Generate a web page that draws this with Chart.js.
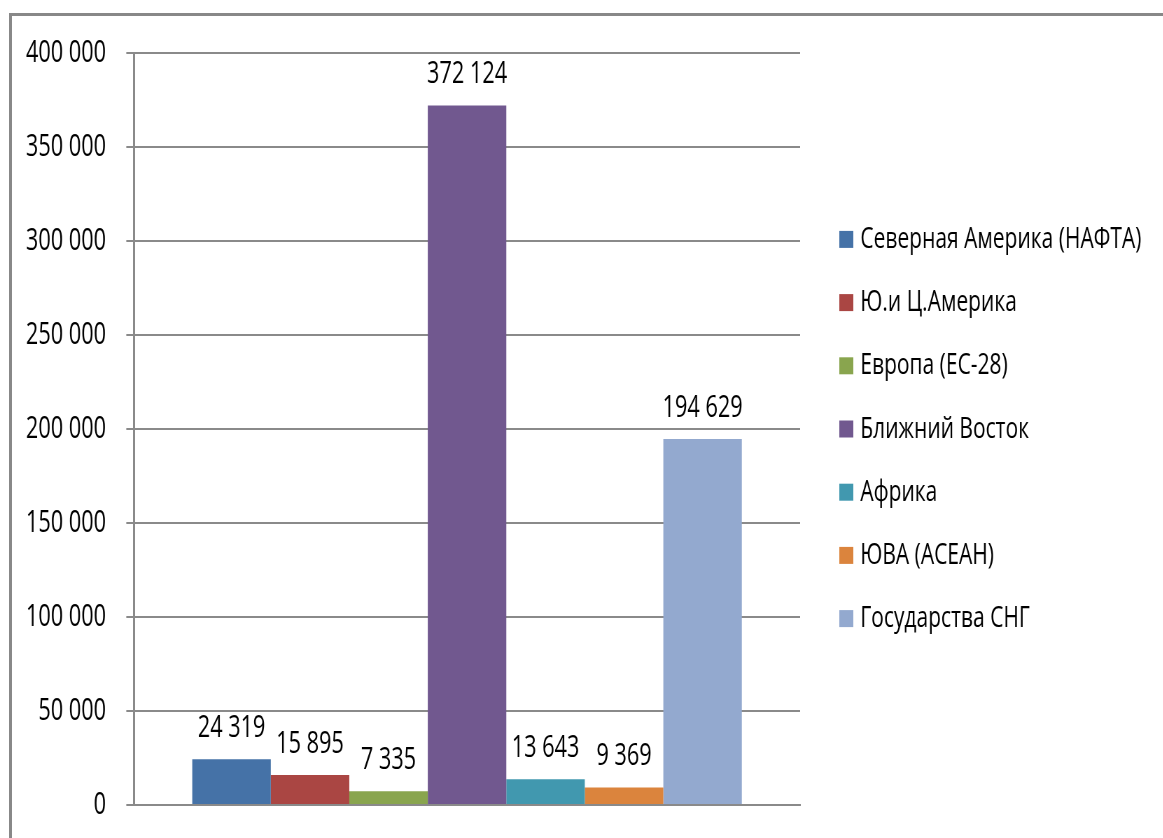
<!DOCTYPE html>
<html lang="ru">
<head>
<meta charset="utf-8">
<title>Регионы</title>
<script src="https://cdn.jsdelivr.net/npm/chart.js@4.4.1/dist/chart.umd.min.js"></script>
<style>
  html, body { margin: 0; padding: 0; background: #fff; overflow: hidden; }
  #wrap { position: relative; width: 1163px; height: 838px; overflow: hidden; background: #fff; }
  /* шрифт узкий, поэтому холст рисуется шире и сжимается по горизонтали */
  #chart { position: absolute; left: 0; top: 0; transform: scaleX(0.7); transform-origin: 0 0; }
  #frame { position: absolute; left: 9px; top: 13px; width: 1200px; height: 900px;
           border-left: 3px solid #888; border-top: 3px solid #888; pointer-events: none; }
</style>
</head>
<body>
<div id="wrap">
  <canvas id="chart" width="1662" height="838"></canvas>
  <div id="frame"></div>
</div>
<script>
// Регионы и значения (одна категория, по серии на регион)
var regions = [
    'Северная Америка (НАФТА)',
    'Ю.и Ц.Америка',
    'Европа (ЕС-28)',
    'Ближний Восток',
    'Африка',
    'ЮВА (АСЕАН)',
    'Государства СНГ'
];
var values = [24319, 15895, 7335, 372124, 13643, 9369, 194629];
var colors = ['#4572A7', '#AA4643', '#89A54E', '#71588F', '#4198AF', '#DB843D', '#93A9CF'];
var yTicks = [0, 50000, 100000, 150000, 200000, 250000, 300000, 350000, 400000];

var FONT = '"Open Sans", "Noto Sans", sans-serif';
var FONT_SIZE = 31;
var GRID = '#8a8a8a';

function fmt(v) {
    return String(v).replace(/\B(?=(\d{3})+(?!\d))/g, ' ');
}

var datasets = regions.map(function (name, i) {
    return {
        label: name,
        data: [values[i]],
        backgroundColor: colors[i],
        borderWidth: 0,
        categoryPercentage: 0.825,
        barPercentage: 1.0
    };
});

// подписи значений над столбцами
var valueLabels = {
    id: 'valueLabels',
    afterDatasetsDraw: function (chart) {
        var ctx = chart.ctx;
        ctx.save();
        ctx.font = FONT_SIZE + 'px ' + FONT;
        ctx.fillStyle = '#000';
        ctx.textAlign = 'center';
        ctx.textBaseline = 'alphabetic';
        chart.data.datasets.forEach(function (ds, i) {
            var bar = chart.getDatasetMeta(i).data[0];
            ctx.fillText(fmt(ds.data[0]), bar.x, bar.y - 22);
        });
        ctx.restore();
    }
};

// легенда справа от области построения (столбец по центру высоты)
var sideLegend = {
    id: 'sideLegend',
    afterDraw: function (chart) {
        var ctx = chart.ctx;
        var area = chart.chartArea;
        var items = chart.data.datasets;
        var step = 63.2;
        var boxX = area.right + 56;
        var firstY = (area.top + area.bottom) / 2 - step * (items.length - 1) / 2;
        ctx.save();
        ctx.font = '30px ' + FONT;
        ctx.textBaseline = 'middle';
        ctx.textAlign = 'left';
        items.forEach(function (ds, i) {
            var cy = firstY + i * step;
            ctx.fillStyle = ds.backgroundColor;
            ctx.fillRect(boxX, cy - 8.5, 20, 17);
            ctx.fillStyle = '#000';
            ctx.fillText(ds.label, boxX + 30, cy);
        });
        ctx.restore();
    }
};

new Chart(document.getElementById('chart'), {
    type: 'bar',
    data: { labels: [''], datasets: datasets },
    plugins: [valueLabels, sideLegend],
    options: {
        responsive: false,
        animation: false,
        layout: { padding: { left: 8, right: 519, top: 53, bottom: 33 } },
        plugins: {
            tooltip: { enabled: false },
            legend: { display: false }
        },
        scales: {
            x: {
                ticks: { display: false },
                grid: { display: false, drawTicks: false },
                border: { color: GRID, width: 2 }
            },
            y: {
                min: 0,
                max: 400000,
                afterBuildTicks: function (axis) {
                    axis.ticks = yTicks.map(function (v) { return { value: v }; });
                },
                // отступ подписей не должен сдвигать низ области построения
                afterFit: function (axis) {
                    axis.paddingTop = 0;
                    axis.paddingBottom = 0;
                },
                ticks: {
                    font: { family: FONT, size: FONT_SIZE },
                    color: '#000',
                    padding: 29,
                    callback: function (v) { return fmt(v); }
                },
                grid: { color: GRID, lineWidth: 2, tickLength: 11 },
                border: { color: GRID, width: 3 }
            }
        }
    }
});
</script>
</body>
</html>
